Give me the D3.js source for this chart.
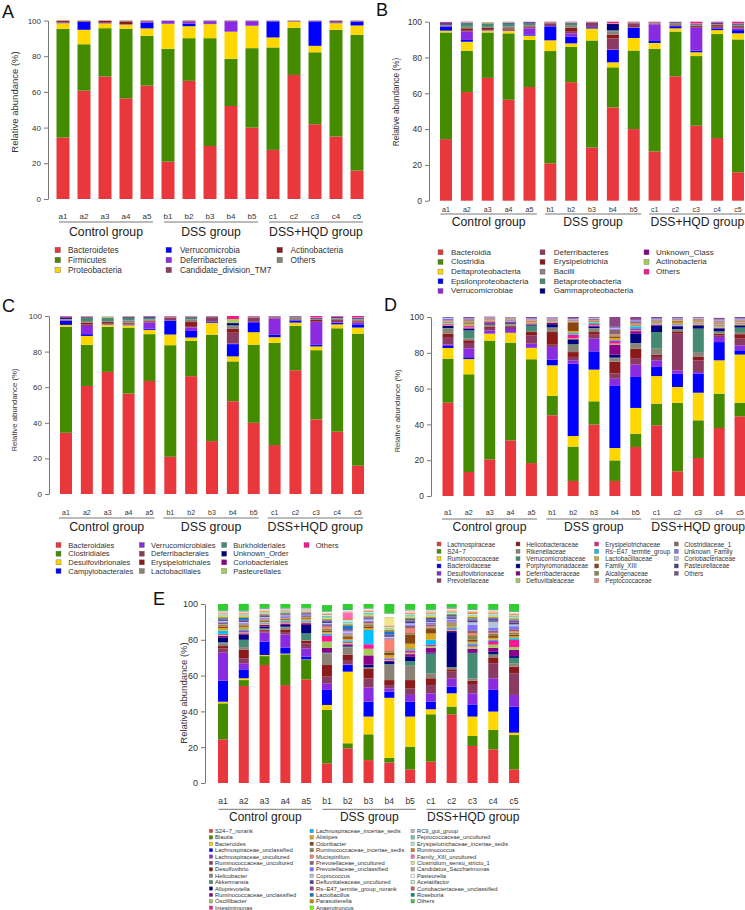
<!DOCTYPE html>
<html><head><meta charset="utf-8">
<script src="https://cdn.jsdelivr.net/npm/d3@7"></script>
<style>body{margin:0;background:#fff}svg{display:block}</style>
</head><body><svg id="c" width="745" height="910"></svg>
<script>
const FONT = '"Liberation Sans", Arial, sans-serif';
const samples = ["a1","a2","a3","a4","a5","b1","b2","b3","b4","b5","c1","c2","c3","c4","c5"];
const groupNames = ["Control group","DSS group","DSS+HQD group"];
const yTicks = [0,20,40,60,80,100];

// ---------- A: phylum (rows = taxa, columns = samples) ----------
const phylumNames = ["Bacteroidetes","Firmicutes","Proteobacteria","Verrucomicrobia","Deferribacteres","Candidate_division_TM7","Actinobacteria","Others"];
const phylumColors = ["#E8383D","#458B00","#FFD700","#0000FF","#8A2BE2","#8B3A62","#8B1A1A","#8B8378"];
const phylumValues = [
 [34.4,60.7,68.6,56.4,63.5,20.9,66.2,29.7,52.1,40.0,27.5,69.5,41.9,35.0,15.9],
 [60.9,26.0,27.1,38.9,27.9,63.2,23.9,60.4,26.4,44.5,57.4,26.4,40.3,59.8,76.1],
 [3.2,8.1,2.6,2.3,4.2,14.0,6.7,7.9,15.2,12.5,5.6,3.4,3.6,3.7,5.2],
 [0.3,4.5,0.1,0.1,3.3,0.1,1.5,0.1,0.1,0.1,9.0,0.1,13.7,0.3,2.0],
 [0.1,0.1,0.1,0.1,0.5,1.5,1.0,1.5,5.8,2.5,0.2,0.1,0.2,0.2,0.3],
 [0.3,0.1,0.3,0.2,0.2,0.1,0.3,0.1,0.2,0.2,0.1,0.1,0.1,0.8,0.2],
 [0.7,0.3,1.1,1.5,0.3,0.1,0.3,0.2,0.1,0.1,0.1,0.1,0.1,0.1,0.1],
 [0.1,0.2,0.1,0.5,0.1,0.1,0.1,0.1,0.1,0.1,0.1,0.3,0.1,0.1,0.2]
];

// ---------- B: class ----------
const classNames = ["Bacteroidia","Clostridia","Deltaproteobacteria","Epsilonproteobacteria","Verrucomicrobiae","Deferribacteres","Erysipelotrichia","Bacilli","Betaproteobacteria","Gammaproteobacteria","Unknown_Class","Actinobacteria","Others"];
const classColors = ["#E8383D","#458B00","#FFD700","#0000FF","#8A2BE2","#8B3A62","#8B1A1A","#8B8378","#458B74","#000080","#8B008B","#A2CD5A","#FF1493"];
const classValues = [
 [34.4,60.7,68.6,56.4,63.5,20.9,66.2,29.7,52.1,40.0,27.5,69.5,41.9,35.0,15.9],
 [59.6,23.1,25.4,37.1,26.3,62.7,19.8,59.8,22.4,43.9,57.4,25.0,38.9,58.1,74.2],
 [1.0,5.0,1.0,1.3,2.4,6.0,1.9,6.7,2.8,7.0,3.2,1.8,2.1,2.2,3.4],
 [2.3,1.0,0.2,0.3,0.7,7.8,3.7,0.7,6.9,5.6,1.5,1.2,0.9,0.9,1.8],
 [0.2,4.6,0.1,0.1,3.4,0.1,1.9,0.2,0.3,0.2,8.9,0.1,12.8,0.3,1.0],
 [0.1,0.9,0.6,0.5,0.6,1.5,0.9,2.2,6.1,2.3,0.3,0.2,0.5,0.8,0.6],
 [0.3,1.0,0.7,0.6,0.5,0.2,2.2,0.1,2.2,0.2,0.2,0.3,0.7,0.8,0.6],
 [0.3,0.9,0.5,1.2,0.7,0.2,1.5,0.1,1.9,0.2,0.2,1.1,0.5,0.5,0.6],
 [0.2,1.9,1.8,1.5,1.0,0.1,1.0,0.1,0.5,0.1,0.1,0.2,0.2,0.3,0.4],
 [0.7,0.2,0.1,0.3,0.5,0.1,0.2,0.1,3.5,0.1,0.1,0.3,0.3,0.4,0.3],
 [0.6,0.2,0.1,0.2,0.2,0.1,0.2,0.1,0.2,0.1,0.3,0.1,0.2,0.3,0.3],
 [0.1,0.3,0.6,0.4,0.1,0.1,0.3,0.1,0.3,0.1,0.1,0.1,0.2,0.1,0.2],
 [0.1,0.2,0.1,0.1,0.1,0.2,0.2,0.1,0.8,0.2,0.2,0.1,0.8,0.3,0.7]
];

// ---------- C: order ----------
const orderNames = ["Bacteroidales","Clostridiales","Desulfovibrionales","Campylobacterales","Verrucomicrobiales","Deferribacterales","Erysipelotrichales","Lactobacillales","Burkholderiales","Unknown_Order","Coriobacteriales","Pasteurellales","Others"];
const orderColors = ["#E8383D","#458B00","#FFD700","#0000FF","#8A2BE2","#8B3A62","#8B1A1A","#8B8378","#458B74","#000080","#8B008B","#A2CD5A","#FF1493"];
const orderValues = [
 [34.4,60.7,68.6,56.4,63.5,20.9,66.2,29.7,52.1,40.0,27.5,69.5,41.9,35.0,15.9],
 [59.6,23.1,25.4,37.1,26.3,62.7,19.8,59.8,22.4,43.9,57.4,25.0,38.9,58.1,74.2],
 [1.0,5.0,1.0,1.3,2.4,6.0,1.9,6.7,2.8,7.0,3.2,1.8,2.1,2.2,3.4],
 [2.3,1.0,0.2,0.3,0.7,7.8,3.7,0.7,6.9,5.6,1.5,1.2,0.9,0.9,1.8],
 [0.2,4.6,0.1,0.1,3.4,0.1,1.9,0.2,0.3,0.2,8.9,0.1,12.8,0.3,1.0],
 [0.1,0.9,0.6,0.5,0.6,1.5,0.9,2.2,6.1,2.3,0.3,0.2,0.5,0.8,0.6],
 [0.3,1.0,0.7,0.6,0.5,0.2,2.2,0.1,2.2,0.2,0.2,0.3,0.7,0.8,0.6],
 [0.3,0.9,0.5,1.2,0.7,0.2,1.5,0.1,1.5,0.2,0.2,1.1,0.5,0.5,0.6],
 [0.2,1.9,1.8,1.5,1.0,0.1,1.0,0.1,0.5,0.1,0.1,0.2,0.2,0.3,0.4],
 [0.7,0.2,0.1,0.3,0.5,0.1,0.2,0.1,1.2,0.1,0.1,0.3,0.3,0.4,0.3],
 [0.6,0.2,0.1,0.2,0.2,0.1,0.2,0.1,0.2,0.1,0.3,0.1,0.2,0.3,0.3],
 [0.1,0.3,0.6,0.4,0.1,0.1,0.3,0.1,2.1,0.1,0.1,0.1,0.2,0.1,0.2],
 [0.1,0.2,0.1,0.1,0.1,0.2,0.2,0.1,1.7,0.2,0.2,0.1,0.8,0.3,0.7]
];

// ---------- D: family (rows = samples, columns = taxa) ----------
const familyNames = ["Lachnospiraceae","S24\u22127","Ruminococcaceae","Bacteroidaceae","Desulfovibrionaceae","Prevotellaceae","Helicobacteraceae","Rikenellaceae","Verrucomicrobiaceae","Porphyromonadaceae","Deferribacteraceae","Defluviitaleaceae","Erysipelotrichaceae","Rs\u2212E47_termite_group","Lactobacillaceae","Family_XIII","Alcaligenaceae","Peptococcaceae","Clostridiaceae_1","Unknown_Family","Coriobacteriaceae","Pasteurellaceae","Others"];
const familyColors = ["#E8383D","#458B00","#FFD700","#0000FF","#8A2BE2","#8B3A62","#8B1A1A","#8B8378","#458B74","#000080","#8B008B","#A2CD5A","#FF1493","#00BFFF","#DAA520","#8B4513","#8B864E","#FA8072","#8B636C","#8470FF","#B0C4DE","#483D8B","#8B4789"];
const familyBySample = [
 [52.1,24.6,6.0,1.1,0.9,4.1,1.9,2.8,0.3,1.2,0.3,0.4,0.5,0.3,0.5,0.2,0.3,0.4,0.3,0.8,0.4,0.2,0.4],
 [13.4,54.6,8.5,1.0,5.0,3.0,1.5,1.0,4.5,1.0,0.3,0.3,0.8,0.4,1.0,0.5,0.8,0.3,0.8,0.3,0.2,0.2,0.6],
 [20.5,66.3,3.9,0.2,1.5,1.5,0.8,0.8,0.3,0.5,0.8,0.3,0.3,0.2,0.4,0.2,0.3,0.2,0.3,0.2,0.2,0.1,0.4],
 [31.1,54.6,5.4,0.2,2.0,1.3,0.5,0.8,0.4,0.6,0.4,0.3,0.5,0.3,0.3,0.1,0.2,0.1,0.2,0.2,0.2,0.2,0.1],
 [18.4,58.0,6.3,0.3,2.1,4.7,1.8,0.6,3.0,0.5,0.3,0.3,0.3,0.2,0.6,0.3,0.3,0.3,0.2,0.3,0.3,0.2,0.7],
 [45.1,10.8,17.1,3.2,7.0,1.3,7.1,2.3,0.3,1.8,0.8,0.3,0.3,0.2,0.3,0.2,0.2,0.4,0.4,0.3,0.3,0.2,0.1],
 [8.4,19.2,5.9,40.4,1.9,1.9,2.7,4.0,0.5,2.5,0.3,0.5,2.0,0.8,1.2,4.5,0.8,0.4,0.3,0.3,0.3,0.3,0.9],
 [39.9,13.0,17.7,10.2,7.1,2.2,1.5,1.9,0.3,1.0,0.5,0.3,0.5,0.8,0.3,0.3,0.3,0.5,0.5,0.3,0.3,0.2,0.4],
 [8.4,11.5,6.9,34.7,4.0,3.0,6.5,2.0,0.3,1.7,5.6,0.5,1.5,0.5,1.2,0.8,0.7,0.5,2.5,0.8,0.5,0.4,5.5],
 [27.4,7.4,14.4,17.3,6.9,3.3,5.6,2.8,0.3,5.2,1.5,0.4,0.8,1.5,0.5,0.4,0.3,0.4,0.8,0.5,0.4,0.3,1.6],
 [39.5,12.1,15.4,5.1,3.7,1.9,1.3,3.3,9.3,3.7,0.3,0.3,0.3,0.3,0.5,0.3,0.4,0.3,0.5,0.3,0.3,0.3,0.6],
 [13.8,38.3,8.8,7.4,1.9,20.8,1.0,0.8,0.5,1.5,0.3,0.3,0.4,0.3,0.8,0.3,0.8,0.3,0.4,0.3,0.3,0.2,0.5],
 [21.2,21.1,15.4,10.6,1.0,6.5,1.9,2.7,13.1,1.8,0.3,0.8,0.3,0.3,0.5,0.2,0.5,0.3,0.4,0.2,0.3,0.2,0.4],
 [38.0,19.2,18.6,10.2,2.8,1.0,0.8,1.0,0.5,1.5,0.4,0.8,0.5,0.4,0.5,0.3,0.5,0.4,0.5,0.3,0.3,0.2,0.8],
 [44.5,7.6,26.9,2.4,2.8,3.7,2.5,1.2,2.5,1.0,0.4,0.8,0.3,0.3,0.4,0.2,0.3,0.3,0.4,0.3,0.3,0.2,0.7]
];

// ---------- E: genus (rows = samples, columns = taxa) ----------
const genusNames = ["S24\u22127_norank","Blautia","Bacteroides","Lachnospiraceae_unclassified","Lachnospiraceae_uncultured","Ruminococcaceae_uncultured","Desulfovibrio","Helicobacter","Akkermansia","Alloprevotella","Ruminococcaceae_unclassified","Oscillibacter","Intestinimonas",
 "Lachnospiraceae_incertae_sedis","Alistipes","Odoribacter","Ruminococcaceae_incertae_sedis","Mucispirillum","Prevotellaceae_uncultured","Prevotellaceae_unclassified","Coprococcus","Defluviitaleaceae_uncultured","Rs\u2212E47_termite_group_norank","Lactobacillus","Parasutterella","Anaerotruncus",
 "RC9_gut_group","Peptococcaceae_uncultured","Erysipelotrichaceae_incertae_sedis","Ruminococcus","Family_XIII_uncultured","Clostridium_sensu_stricto_1","Candidatus_Saccharimonas","Pasteurella","Acetatifactor","Coriobacteriaceae_unclassified","Roseburia","Others"];
const genusColors = ["#E8383D","#458B00","#FFD700","#0000FF","#8A2BE2","#8B3A62","#8B1A1A","#8B8378","#458B74","#000080","#8B008B","#A2CD5A","#FF1493",
 "#00BFFF","#DAA520","#8B4513","#8B864E","#FA8072","#8B636C","#8470FF","#B0C4DE","#483D8B","#8B4789","#1874CD","#CD8500","#7CFC00",
 "#BEBEBE","#66CDAA","#AEEEEE","#EE7600","#FF6EB4","#F0E68C","#CD9B9B","#FFFFFF","#C1FFC1","#CD5C5C","#008B8B","#32CD32"];
const genusBySample = [
 [24.4,20.1,0.9,11.8,15.6,2.4,1.3,1.5,0.6,2.8,0.8,0.6,0.5,1.8,1.5,0.8,1.0,0.3,0.8,0.5,0.6,0.6,0.6,0.4,0.5,0.4,0.5,0.4,0.3,0.4,0.2,0.2,0.3,0.2,0.3,0.2,0.3,3.6],
 [54.2,3.3,1.0,5.0,3.4,2.8,4.7,1.5,4.1,2.8,0.8,0.5,0.8,1.0,1.2,0.5,0.6,0.3,0.5,0.6,0.4,0.6,0.5,1.2,0.6,0.3,0.4,0.3,0.3,0.5,0.2,0.2,0.3,0.2,0.2,0.2,0.4,3.7],
 [65.9,5.0,0.6,7.5,5.0,0.8,0.6,0.5,0.5,1.0,1.0,0.4,0.3,0.5,0.5,0.5,0.6,0.3,0.5,0.4,0.4,0.6,0.4,0.3,0.4,0.2,0.6,0.3,0.2,0.4,0.2,0.2,0.3,0.2,0.2,0.2,0.3,2.2],
 [54.7,17.2,0.4,3.4,7.3,1.3,1.5,1.0,0.5,1.0,0.8,0.5,0.4,0.6,0.4,0.5,0.4,0.2,0.5,0.6,0.5,0.4,0.4,0.4,0.4,0.2,0.3,0.3,0.2,0.3,0.2,0.1,0.2,0.1,0.2,0.2,0.2,2.2],
 [57.9,10.8,0.3,1.6,4.6,2.8,1.5,0.4,3.7,4.7,1.0,0.5,0.4,0.6,0.8,0.4,0.6,0.2,0.5,0.5,0.3,0.5,0.4,0.3,0.3,0.2,0.3,0.2,0.2,0.3,0.1,0.1,0.2,0.1,0.2,0.1,0.2,2.2],
 [11.0,29.8,2.8,8.4,3.7,3.7,6.5,6.5,0.3,0.3,2.5,3.5,3.5,1.0,0.8,0.8,1.0,1.2,1.0,0.6,0.5,0.6,0.8,0.5,0.5,0.3,0.5,0.8,0.5,0.4,0.3,0.2,0.3,0.2,0.4,0.2,0.2,3.3],
 [19.4,2.8,40.0,3.7,0.3,2.5,3.0,4.0,0.5,0.3,1.0,0.8,0.6,0.8,0.8,1.0,1.0,0.5,0.4,0.6,0.8,0.4,0.8,2.1,0.6,0.3,0.4,0.5,1.2,0.5,3.8,0.3,0.3,0.3,0.3,0.2,0.4,2.8],
 [12.8,14.4,9.9,8.3,8.0,5.0,5.6,0.3,0.3,1.5,5.2,3.7,2.5,8.0,1.0,1.0,1.2,0.5,0.8,0.6,0.8,0.6,0.5,0.4,0.6,0.3,0.6,0.8,0.4,0.4,0.3,0.2,0.4,0.2,0.3,0.2,0.2,2.2],
 [11.4,2.6,33.6,3.4,1.9,1.8,2.8,8.5,0.4,1.2,0.8,0.4,0.6,0.5,1.5,1.5,0.8,6.5,0.5,0.4,0.5,0.4,0.8,2.0,0.8,0.4,0.5,0.3,0.5,0.4,0.3,4.5,0.3,1.5,0.3,0.2,0.2,5.0],
 [7.6,12.7,16.8,8.3,3.8,3.7,4.6,8.0,2.5,2.5,1.5,0.8,1.2,0.8,3.0,5.0,1.0,2.5,1.5,0.8,0.6,0.8,0.8,0.8,0.8,0.3,0.5,0.6,0.5,0.5,0.4,0.3,0.4,0.2,0.3,0.2,0.3,3.1],
 [11.9,26.5,2.8,4.2,4.7,4.6,3.8,2.8,11.0,0.5,2.6,1.0,0.8,2.8,3.5,2.5,1.0,0.6,1.0,0.8,0.6,0.8,0.8,0.6,0.6,0.3,0.5,0.6,0.4,0.5,0.3,0.3,0.3,0.2,0.3,0.2,0.3,3.0],
 [38.4,4.3,7.4,3.7,4.7,3.7,1.3,0.8,0.5,19.5,0.8,0.5,0.4,1.0,1.0,0.5,0.8,0.3,0.5,1.0,0.6,0.8,0.6,0.8,0.5,0.3,0.4,0.4,0.3,0.3,0.3,0.2,0.3,0.2,0.3,0.5,0.3,1.8],
 [20.7,5.6,10.8,6.8,6.2,5.2,1.9,1.3,14.0,0.5,2.0,1.2,0.8,1.0,1.0,1.0,2.6,1.2,1.5,3.0,1.5,0.8,0.8,0.6,0.8,0.3,0.5,0.5,0.4,0.8,0.3,0.3,0.3,0.2,0.3,0.2,0.3,2.8],
 [18.8,10.8,10.3,12.1,6.5,8.4,3.3,1.3,0.6,1.2,2.2,1.8,2.0,0.8,1.0,1.0,1.2,0.6,1.2,1.5,3.5,0.8,0.8,0.6,0.6,0.3,0.5,0.5,0.4,0.5,0.3,0.3,0.3,0.2,0.3,0.2,0.3,3.0],
 [7.6,19.2,1.3,14.5,6.6,12.1,3.7,1.9,3.0,1.0,3.5,1.5,4.0,1.0,1.0,1.0,1.2,0.8,1.0,1.7,1.0,1.0,1.2,0.6,0.6,0.3,0.5,0.5,0.4,0.5,0.3,0.3,0.3,0.2,0.3,0.2,0.3,3.9]
];

// ---------- layout (positions only) ----------
const panels = [
 {letter:"A", lx:2, ly:18, names:phylumNames, colors:phylumColors, bySample:d3.transpose(phylumValues),
  yb:199, yt:20.5, ax:48, x0:63, step:21, bw:13, tickFs:8, xlabY:216, xlabFs:8, glY:222, glOff:[-4,6], gFs:12.2, gY:232,
  titleX:14.5, titleY:102, titleFs:9.5, leg:{y0:250, dy:10, sq:5.5, fs:8.3, perCol:3, sx:[55,166,277], tx:[68,180,290.5]}},
 {letter:"B", lx:376, ly:16, names:classNames, colors:classColors, bySample:d3.transpose(classValues),
  yb:200.7, yt:21.7, ax:429, x0:446, step:20.86, bw:12, tickFs:8.5, xlabY:209, xlabFs:7, glY:214, glOff:[-5.5,7.5], gFs:12.2, gY:222,
  titleX:396, titleY:102, titleFs:8.3, leg:{y0:252.3, dy:9.67, sq:5, fs:8, perCol:5, sx:[438,540,644], tx:[451,553.7,656]}},
 {letter:"C", lx:2, ly:312, names:orderNames, colors:orderColors, bySample:d3.transpose(orderValues),
  yb:494, yt:316, ax:49, x0:66, step:20.86, bw:12, tickFs:8, xlabY:512, xlabFs:7, glY:518, glOff:[-7,5], gFs:12.4, gY:527,
  titleX:14.5, titleY:410, titleFs:7.8, leg:{y0:545, dy:8.67, sq:5, fs:7.6, perCol:4, sx:[56,139.3,221.7,304], tx:[68.3,151,233.3,315.7]}},
 {letter:"D", lx:384, ly:311, names:familyNames, colors:familyColors, bySample:familyBySample,
  yb:496, yt:317, ax:431, x0:448, step:20.86, bw:11, tickFs:8.5, xlabY:512, xlabFs:7.2, glY:519, glOff:[-6,5.6], gFs:12.2, gY:527,
  titleX:397, titleY:411, titleFs:7.8, leg:{y0:544, dy:7.33, sq:4, fs:6.3, perCol:6, sx:[437,516,594.7,674.3], tx:[447.3,526.3,605.3,684.3]}},
 {letter:"E", lx:153, ly:605, names:genusNames, colors:genusColors, bySample:genusBySample,
  yb:783, yt:604, ax:205, x0:223, step:20.79, bw:10, tickFs:9, xlabY:800.7, xlabFs:8.5, glY:809.3, glOff:[-4.5,6], gFs:12, gY:817,
  titleX:183, titleY:693, titleFs:9.5, leg:{y0:831, dy:6.39, sq:3.4, fs:5.8, perCol:13, sx:[209.3,310,411], tx:[215,316,417]}}
];

const svg = d3.select("#c");
svg.append("rect").attr("width",745).attr("height",910).attr("fill","#fff");

function drawPanel(p) {
  const g = svg.append("g");
  const n = samples.length;
  const pad = 1 - p.bw / p.step;
  const x = d3.scaleBand().domain(samples)
    .range([p.x0 - p.step/2, p.x0 + (n - 0.5) * p.step])
    .paddingInner(pad).paddingOuter(pad/2);
  const y = d3.scaleLinear().domain([0,100]).range([p.yb, p.yt]);
  const rows = samples.map((s, j) => {
    const o = {sample: s};
    p.names.forEach((nm, i) => { o[nm] = p.bySample[j][i]; });
    return o;
  });
  const series = d3.stack().keys(p.names)(rows);
  g.append("g").selectAll("g").data(series).join("g")
    .attr("fill", (d, i) => p.colors[i])
    .selectAll("rect").data(d => d).join("rect")
    .attr("x", d => x(d.data.sample)).attr("width", x.bandwidth())
    .attr("y", d => y(d[1])).attr("height", d => Math.max(0, y(d[0]) - y(d[1])));

  // y axis
  const ax = g.append("g").attr("transform", `translate(${p.ax},0)`)
    .call(d3.axisLeft(y).tickValues(yTicks).tickSize(4).tickSizeOuter(0).tickPadding(3));
  ax.attr("font-family", FONT).attr("font-size", p.tickFs);
  ax.select(".domain").attr("stroke", "#777");
  ax.selectAll(".tick line").attr("stroke", "#777");
  ax.selectAll(".tick text").attr("fill", "#333");

  // y title
  g.append("text").attr("transform", `translate(${p.titleX},${p.titleY}) rotate(-90)`)
    .attr("text-anchor","middle").attr("dominant-baseline","central")
    .attr("font-family", FONT).attr("font-size", p.titleFs).attr("fill","#333")
    .text("Relative abundance (%)");

  // sample labels
  g.append("g").selectAll("text").data(samples).join("text")
    .attr("x", d => x(d) + x.bandwidth()/2).attr("y", p.xlabY)
    .attr("text-anchor","middle").attr("dominant-baseline","central")
    .attr("font-family", FONT).attr("font-size", p.xlabFs).attr("fill","#333")
    .text(d => d);

  // group underlines and labels
  groupNames.forEach((gn, k) => {
    const first = samples[k*5], last = samples[k*5+4];
    const x1 = x(first) + x.bandwidth()/2 + p.glOff[0];
    const x2 = x(last) + x.bandwidth()/2 + p.glOff[1];
    g.append("line").attr("x1", x1).attr("x2", x2).attr("y1", p.glY).attr("y2", p.glY)
      .attr("stroke", "#777").attr("stroke-width", 1);
    g.append("text").attr("x", (x1 + x2)/2).attr("y", p.gY)
      .attr("text-anchor","middle").attr("dominant-baseline","central")
      .attr("font-family", FONT).attr("font-size", p.gFs).attr("fill","#222")
      .text(gn);
  });

  // legend
  const L = p.leg;
  const lg = g.append("g").selectAll("g").data(p.names).join("g")
    .attr("transform", (d, i) => `translate(0,${L.y0 + (i % L.perCol) * L.dy})`);
  lg.append("rect")
    .attr("x", (d, i) => L.sx[Math.floor(i / L.perCol)]).attr("y", -L.sq/2)
    .attr("width", L.sq).attr("height", L.sq)
    .attr("fill", (d, i) => p.colors[i]).attr("stroke", "#666").attr("stroke-width", 0.4);
  lg.append("text")
    .attr("x", (d, i) => L.tx[Math.floor(i / L.perCol)]).attr("y", 0)
    .attr("dominant-baseline","central")
    .attr("font-family", FONT).attr("font-size", L.fs).attr("fill","#333")
    .text(d => d);

  // panel letter
  svg.append("text").attr("x", p.lx).attr("y", p.ly)
    .attr("font-family", FONT).attr("font-size", 18).attr("fill","#111")
    .text(p.letter);
}

panels.forEach(drawPanel);
</script></body></html>
